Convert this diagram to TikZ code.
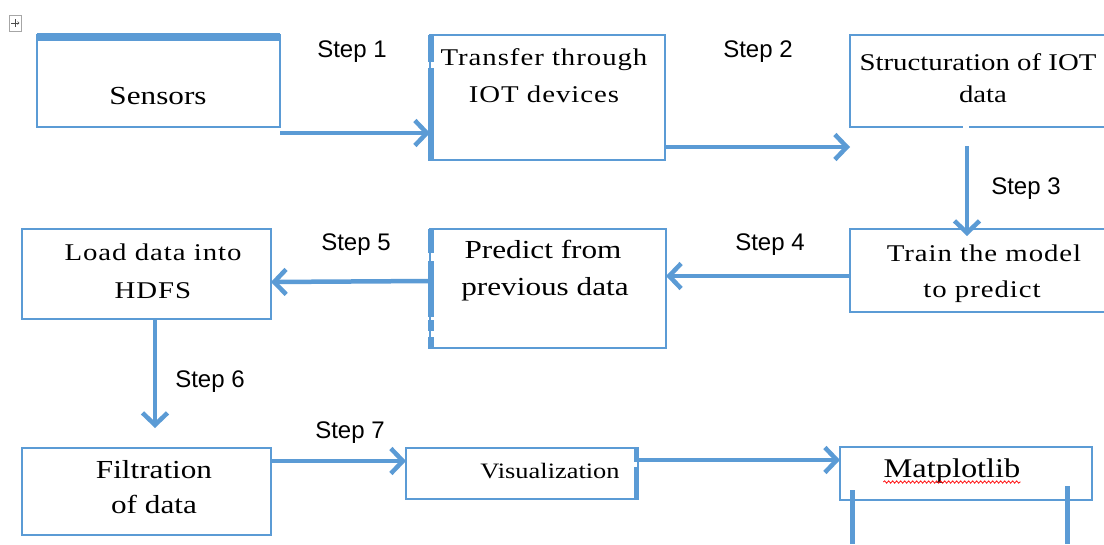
\documentclass[tikz,border=0pt]{standalone}
\usepackage{fontspec}
\setmainfont{Liberation Serif}
\newfontfamily\boxfont[FakeStretch=1.2]{Liberation Serif}
\newfontfamily\stepfont{Liberation Sans}
\usetikzlibrary{arrows.meta,decorations.pathmorphing}
\definecolor{wordblue}{HTML}{5B9BD5}
\newcommand{\bsize}[1]{\fontsize{#1}{#1}\selectfont}
\newcommand{\spaced}{\addfontfeature{LetterSpace=4}}

\begin{document}
\begin{tikzpicture}[x=1pt,y=-1pt,
  box/.style={draw=wordblue, line width=1.6pt, inner sep=0pt, outer sep=0pt, anchor=north west},
  flow/.style={draw=wordblue, line width=4.5pt,
    -{Straight Barb[length=12pt,width=25pt]}},
  accent/.style={fill=wordblue, draw=none},
  boxtext/.style={inner sep=0pt, anchor=base, font=\boxfont\bsize{24}},
  steplabel/.style={inner sep=0pt, anchor=base, font=\stepfont\bsize{24}},
]
\clip (0,0) rectangle (1104,544);
\fill[white] (0,0) rectangle (1104,544);

% move handle in the corner
\draw[gray!70, line width=0.8pt] (9,15) rectangle (21,31);
\draw[gray!60!black, line width=0.7pt] (11,23) -- (19,23) (15,19) -- (15,27);
\draw[gray!60!black, line width=0.6pt] (17.5,21.5) -- (19,23) -- (17.5,24.5);

% boxes
\node[box, minimum width=243, minimum height=92] (sensors) at (37,35) {};
\node[box, minimum width=235, minimum height=125] (transfer) at (430,35) {};
\node[box, minimum width=262, minimum height=92] (struct) at (850,35) {};
\node[box, minimum width=262, minimum height=83] (train) at (850,229) {};
\node[box, minimum width=249, minimum height=90] (load) at (22,229) {};
\node[box, minimum width=236, minimum height=119] (predict) at (430,229) {};
\node[box, minimum width=249, minimum height=87] (filt) at (22,448) {};
\node[box, minimum width=232, minimum height=51] (vis) at (406,448) {};
\node[box, minimum width=252, minimum height=53] (mpl) at (840,447) {};

% small break in the lower edge of the structuration box
\fill[white] (963,124) rectangle (969,130);

% heavy edge segments
\fill[accent] (37,33) rectangle (280,41);
\fill[accent] (428,35) rectangle (434,62);
\fill[accent] (428,68) rectangle (434,161);
\fill[accent] (428,229) rectangle (434,253);
\fill[accent] (428,261) rectangle (434,317);
\fill[accent] (428,320) rectangle (434,331);
\fill[accent] (428,337) rectangle (434,349);
\fill[accent] (634,447) rectangle (639,462);
\fill[accent] (634,467) rectangle (639,500);
\fill[accent] (850,490) rectangle (855,544);
\fill[accent] (1065,486) rectangle (1070,544);

% connectors
\draw[flow] (sensors.south east |- 0,133) -- (transfer.west |- 0,133);
\draw[flow] (transfer.east |- 0,147) -- (struct.west |- 0,147);
\draw[flow] ([shift={(117,19)}]struct.south west) -- ([shift={(117,7)}]train.north west);
\draw[flow] (train.west |- 0,276) -- (predict.east |- 0,276);
\draw[flow] (predict.west |- 0,281) -- (load.east |- 0,282);
\draw[flow] (load.south -| 155,0) -- ([yshift=20pt]filt.north -| 155,0);
\draw[flow] (filt.east |- 0,461) -- (vis.west |- 0,461);
\draw[flow] (vis.east |- 0,460) -- (mpl.west |- 0,460);

% box texts
\node[boxtext, font=\boxfont\bsize{26}] (tSensors) at (158,104) {Sensors};
\node[boxtext, font=\boxfont\bsize{24}\spaced] (tTransferA) at (544,65) {Transfer through};
\node[boxtext, font=\boxfont\bsize{24}\spaced] (tTransferB) at (544,102) {IOT devices};
\node[boxtext] (tStructA) at (978,70) {Structuration of IOT};
\node[boxtext] (tStructB) at (983,102) {data};
\node[boxtext, font=\boxfont\bsize{24}\spaced] (tTrainA) at (984,261) {Train the model};
\node[boxtext, font=\boxfont\bsize{24}\spaced] (tTrainB) at (982,297) {to predict};
\node[boxtext, font=\boxfont\bsize{24}\spaced] (tLoadA) at (153,260) {Load data into};
\node[boxtext, font=\boxfont\bsize{24}\spaced] (tLoadB) at (153,298) {HDFS};
\node[boxtext, font=\boxfont\bsize{26}] (tPredA) at (543,258) {Predict from};
\node[boxtext, font=\boxfont\bsize{26}] (tPredB) at (545,295) {previous data};
\node[boxtext, font=\boxfont\bsize{26}] (tFiltA) at (154,478) {Filtration};
\node[boxtext, font=\boxfont\bsize{26}] (tFiltB) at (154,513) {of data};
\node[boxtext, font=\boxfont\bsize{22}] (tVis) at (550,478) {Visualization};
\node[boxtext, font=\boxfont\bsize{27}] (tMpl) at (952,477) {Matplotlib};
\draw[red, line width=0.7pt, decorate, decoration={snake, amplitude=1.2pt, segment length=4pt}]
  ([yshift=-5pt]tMpl.base west) -- ([yshift=-5pt]tMpl.base east);

% step labels
\node[steplabel] (s1) at (352,57) {Step 1};
\node[steplabel] (s2) at (758,57) {Step 2};
\node[steplabel] (s3) at (1026,194) {Step 3};
\node[steplabel] (s4) at (770,250) {Step 4};
\node[steplabel] (s5) at (356,250) {Step 5};
\node[steplabel] (s6) at (210,387) {Step 6};
\node[steplabel] (s7) at (350,438) {Step 7};
\end{tikzpicture}
\end{document}
